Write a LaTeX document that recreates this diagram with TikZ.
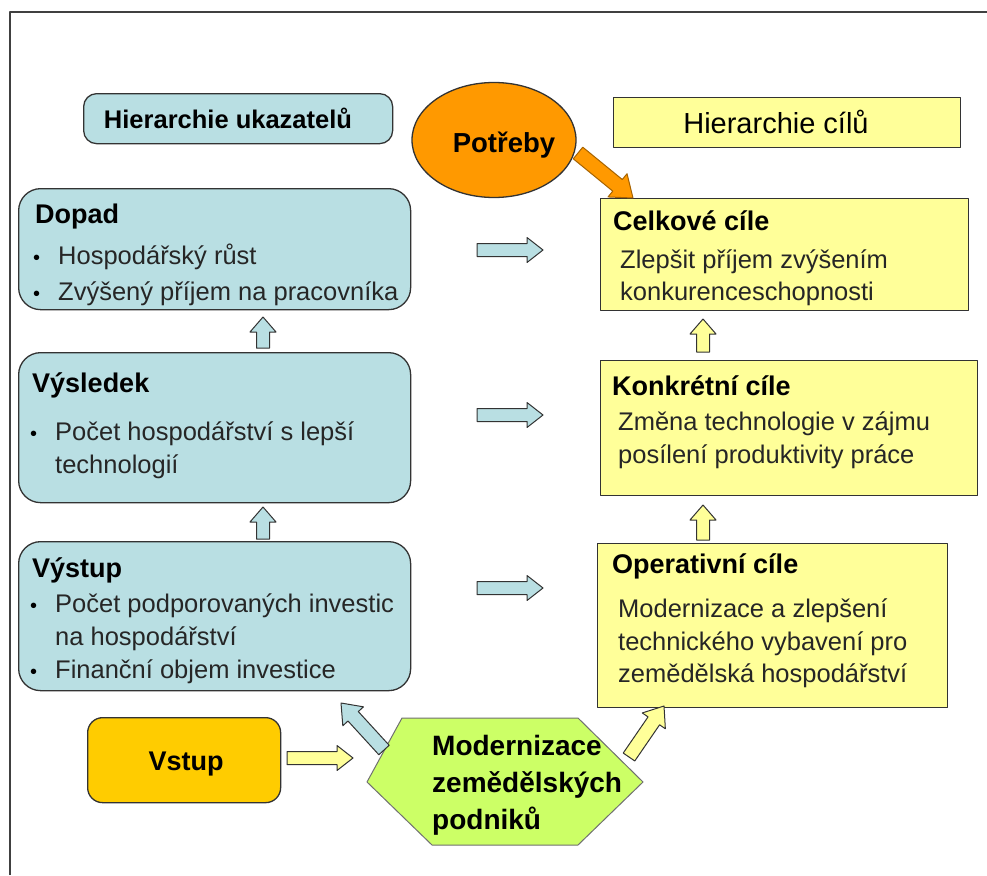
\documentclass[tikz,border=0pt]{standalone}
\usepackage{fontspec}
\setmainfont{Liberation Sans}
\usetikzlibrary{calc,shapes.geometric}
\definecolor{indblue}{HTML}{B9DFE3}
\definecolor{goalyel}{HTML}{FFFF99}
\definecolor{orng}{HTML}{FF9900}
\definecolor{gold}{HTML}{FFCC00}
\definecolor{lgreen}{HTML}{CCFF66}
\definecolor{edge}{HTML}{333333}
% block arrow: #1 style, #2 from, #3 to, #4 name, #5 half shaft, #6 half head, #7 head length
\newcommand\blockarr[7]{%
  \coordinate (#4n) at ($(#3)!#7!(#2)$);
  \draw[#1] ($(#2)!#5!90:(#3)$) -- ($(#4n)!#5!90:(#3)$) -- ($(#4n)!#6!90:(#3)$) -- (#3)
    -- ($(#4n)!#6!-90:(#3)$) -- ($(#4n)!#5!-90:(#3)$) -- ($(#2)!#5!-90:(#3)$) -- cycle;
}
\begin{document}
\begin{tikzpicture}[x=1pt, y=-1pt, line join=round,
  indbox/.style={draw=edge, line width=1.3pt, fill=indblue, rounded corners=22pt, inner sep=0pt},
  goalbox/.style={draw=edge, line width=1.3pt, fill=goalyel, inner sep=0pt},
  hd/.style={font=\bfseries\fontsize{27}{30}\selectfont, anchor=base west, inner sep=0pt},
  bd/.style={font=\fontsize{25.5}{30}\selectfont, anchor=base west, inner sep=0pt, text=black!85},
  bul/.style={font=\fontsize{20}{24}\selectfont, anchor=base west, inner sep=0pt},
  barblue/.style={draw=edge, line width=1pt, fill=indblue},
  baryel/.style={draw=edge, line width=1pt, fill=goalyel},
  barorg/.style={draw=orng!65!black, line width=1pt, fill=orng}]
\useasboundingbox (0,0) rectangle (987,875);
\fill[white] (0,0) rectangle (987,875);
% frame
\draw[line width=2pt, draw=black!75] (10,875) -- (10,12) -- (987,12);

% titles
\node[indbox, rounded corners=13pt, anchor=north west, minimum width=309pt, minimum height=50pt] (hu) at (83,93) {};
\node[font=\bfseries\fontsize{25.5}{30}\selectfont, anchor=base, inner sep=0pt] (hut) at (228,128) {Hierarchie ukazatelů};
\node[goalbox, anchor=north west, minimum width=347pt, minimum height=50pt] (hc) at (613,97) {};
\node[font=\fontsize{29}{32}\selectfont, anchor=base, inner sep=0pt] (hct) at (776,133) {Hierarchie cílů};
\node[ellipse, draw=edge, line width=1.3pt, fill=orng, minimum width=164pt, minimum height=115pt, inner sep=0pt] (potr) at (494,140) {};
\node[font=\bfseries\fontsize{27.5}{30}\selectfont, anchor=base, inner sep=0pt] (potrt) at (504,152) {Potřeby};

% left boxes
\node[indbox, anchor=north west, minimum width=392pt, minimum height=121pt] (dopad) at (18,188) {};
\node[hd] (dopadh) at (35,223) {Dopad};
\node[bul] (b1) at (33,264) {•};
\node[bd] (d1) at (58,264) {Hospodářský růst};
\node[bul] (b2) at (33,300) {•};
\node[bd] (d2) at (58,300) {Zvýšený příjem na pracovníka};

\node[indbox, anchor=north west, minimum width=392pt, minimum height=150pt] (vysl) at (18,352) {};
\node[hd] (vyslh) at (32,392) {Výsledek};
\node[bul] (b3) at (30,440) {•};
\node[bd] (v1) at (55,440) {Počet hospodářství s lepší};
\node[bd] (v2) at (55,473) {technologií};

\node[indbox, anchor=north west, minimum width=392pt, minimum height=149pt] (vyst) at (18,541) {};
\node[hd] (vysth) at (32,577) {Výstup};
\node[bul] (b4) at (30,612) {•};
\node[bd] (s1) at (55,612) {Počet podporovaných investic};
\node[bd] (s2) at (55,645) {na hospodářství};
\node[bul] (b5) at (30,678) {•};
\node[bd] (s3) at (55,678) {Finanční objem investice};

% right boxes
\node[goalbox, anchor=north west, minimum width=368pt, minimum height=112pt] (celk) at (600,198) {};
\node[hd] (celkh) at (613,230) {Celkové cíle};
\node[bd] (c1) at (620,268) {Zlepšit příjem zvýšením};
\node[bd] (c2) at (620,300) {konkurenceschopnosti};

\node[goalbox, anchor=north west, minimum width=377pt, minimum height=135pt] (konk) at (600,360) {};
\node[hd] (konkh) at (612,395) {Konkrétní cíle};
\node[bd] (k1) at (618,430) {Změna technologie v zájmu};
\node[bd] (k2) at (618,463) {posílení produktivity práce};

\node[goalbox, anchor=north west, minimum width=350pt, minimum height=164pt] (oper) at (597,543) {};
\node[hd] (operh) at (612,573) {Operativní cíle};
\node[bd] (o1) at (618,617) {Modernizace a zlepšení};
\node[bd] (o2) at (618,650) {technického vybavení pro};
\node[bd] (o3) at (618,682) {zemědělská hospodářství};

% bottom
\node[draw=edge, line width=1.3pt, fill=gold, rounded corners=15pt, anchor=north west, minimum width=193pt, minimum height=85pt, inner sep=0pt] (vstup) at (87,717) {};
\node[font=\bfseries\fontsize{27}{30}\selectfont, anchor=base, inner sep=0pt] (vstupt) at (186,770) {Vstup};
\draw[draw=edge!70, line width=1pt, fill=lgreen] (367,782) coordinate (hxl) -- (402,718) coordinate (hxtl) -- (578,718) coordinate (hxtr) -- (643,782) coordinate (hxr) -- (578,845) coordinate (hxbr) -- (432,845) coordinate (hxbl) -- cycle;
\node[font=\bfseries\fontsize{28}{37}\selectfont, align=left, anchor=north west, inner sep=0pt] (mod) at (432,735) {Modernizace\\zemědělských\\podniků};

% arrow end coordinates
\coordinate (a1s) at (477,250); \coordinate (a1e) at (543,250);
\coordinate (a2s) at (477,415); \coordinate (a2e) at (543,415);
\coordinate (a3s) at (477,588); \coordinate (a3e) at (543,588);
\coordinate (u1s) at (263,348); \coordinate (u1e) at (263,317);
\coordinate (u2s) at (263,539); \coordinate (u2e) at (263,507);
\coordinate (y1s) at (703,352); \coordinate (y1e) at (703,319);
\coordinate (y2s) at (703,540); \coordinate (y2e) at (703,505);
\coordinate (ors) at (578,153); \coordinate (ore) at (633,198);
\coordinate (vss) at (287,758); \coordinate (vse) at (353,758);
\coordinate (bds) at (384,750); \coordinate (bde) at (341,703);
\coordinate (yds) at (629,757); \coordinate (yde) at (664,706);

\blockarr{barblue}{a1s}{a1e}{a1}{6.5pt}{12.5pt}{16pt}
\blockarr{barblue}{a2s}{a2e}{a2}{6.5pt}{12.5pt}{16pt}
\blockarr{barblue}{a3s}{a3e}{a3}{6.5pt}{12.5pt}{16pt}
\blockarr{barblue}{u1s}{u1e}{u1}{6.5pt}{13pt}{15pt}
\blockarr{barblue}{u2s}{u2e}{u2}{6.5pt}{13pt}{15pt}
\blockarr{baryel}{y1s}{y1e}{y1}{6.5pt}{13pt}{15pt}
\blockarr{baryel}{y2s}{y2e}{y2}{6.5pt}{13pt}{15pt}
\blockarr{barorg}{ors}{ore}{or}{7.5pt}{15pt}{20pt}
\blockarr{baryel}{vss}{vse}{vs}{6.5pt}{12.5pt}{16pt}
\blockarr{barblue}{bds}{bde}{bd}{7pt}{14pt}{18pt}
\blockarr{baryel}{yds}{yde}{yd}{7pt}{14pt}{18pt}
\end{tikzpicture}
\end{document}
